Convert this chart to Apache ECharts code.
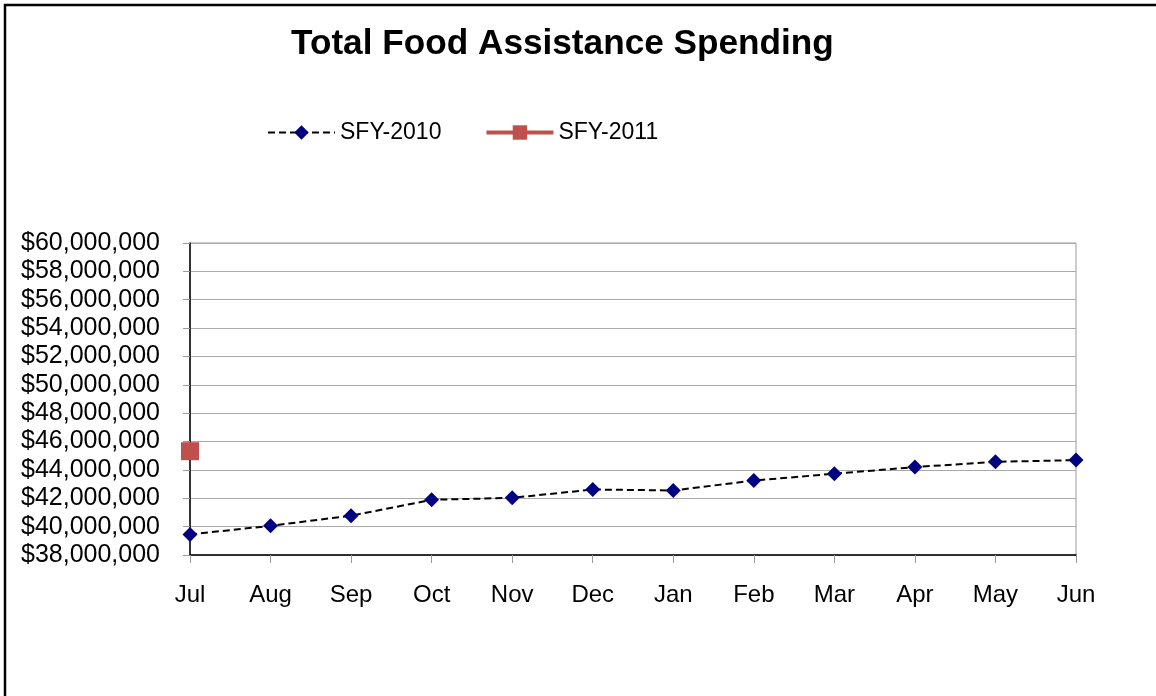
<!DOCTYPE html>
<html>
<head>
<meta charset="utf-8">
<script src="https://cdn.jsdelivr.net/npm/echarts@6/dist/echarts.min.js"></script>
<style>
html,body{margin:0;padding:0;background:#fff;}
#c{width:1156px;height:696px;}
</style>
</head>
<body>
<div id="c"></div>
<script>
var categories = ['Jul','Aug','Sep','Oct','Nov','Dec','Jan','Feb','Mar','Apr','May','Jun'];
var sfy2010 = [39450000, 40060000, 40770000, 41890000, 42030000, 42620000, 42550000, 43250000, 43730000, 44200000, 44570000, 44690000];
var sfy2011 = [45320000, null, null, null, null, null, null, null, null, null, null, null];
var yMin = 38000000, yMax = 60000000, yStep = 2000000;

function money(v){
  var s = Math.round(v).toString().replace(/\B(?=(\d{3})+(?!\d))/g, ',');
  return '$' + s;
}

var chart = echarts.init(document.getElementById('c'));
var FONT = '"Liberation Sans", Arial, sans-serif';
chart.setOption({
  animation: false,
  backgroundColor: '#fff',
  graphic: [{
    type: 'rect', silent: true, z: 100,
    shape: {x: 5, y: 5, width: 1300, height: 900},
    style: {fill: 'none', stroke: '#000', lineWidth: 2.5}
  }],
  title: {
    text: 'Total Food Assistance Spending',
    left: 286, top: 22,
    textStyle: {fontFamily: FONT, fontSize: 35.2, fontWeight: 'bold', color: '#000'}
  },
  legend: {
    left: 262, top: 116,
    itemWidth: 67, itemHeight: 18, itemGap: 43,
    textStyle: {fontFamily: FONT, fontSize: 23, color: '#000'},
    data: [
      {name: 'SFY-2010'},
      {name: 'SFY-2011', lineStyle: {width: 4, color: '#C0504D'}}
    ]
  },
  grid: {
    left: 190, right: 80, top: 243, bottom: 141,
    show: true, borderColor: '#999', borderWidth: 1, backgroundColor: 'transparent'
  },
  xAxis: {
    type: 'category', data: categories, boundaryGap: false,
    axisLine: {lineStyle: {color: '#000', width: 1.5}},
    axisTick: {show: true, length: 8, lineStyle: {color: '#999'}},
    axisLabel: {fontFamily: FONT, fontSize: 24, color: '#000', margin: 28},
    splitLine: {show: false}
  },
  yAxis: {
    type: 'value', min: yMin, max: yMax, interval: yStep,
    axisLine: {show: true, lineStyle: {color: '#000', width: 1.5}},
    axisTick: {show: true, length: 7, lineStyle: {color: '#999'}},
    axisLabel: {fontFamily: FONT, fontSize: 25, color: '#000', margin: 30, formatter: money},
    splitLine: {show: true, lineStyle: {color: '#aaa', width: 1}}
  },
  series: [{
    name: 'SFY-2010', type: 'line', data: sfy2010,
    symbol: 'diamond', symbolSize: 15,
    itemStyle: {color: '#000080'},
    lineStyle: {color: '#000', width: 2, type: [7, 4]}
  }, {
    name: 'SFY-2011', type: 'line', data: sfy2011,
    symbol: 'rect', symbolSize: 18,
    itemStyle: {color: '#C0504D'},
    lineStyle: {color: '#C0504D', width: 4}
  }]
});
</script>
</body>
</html>
